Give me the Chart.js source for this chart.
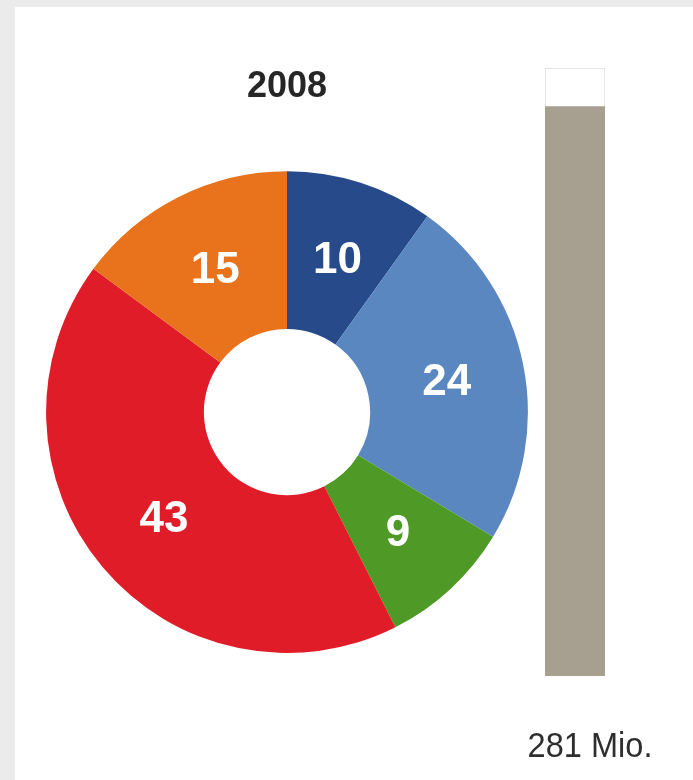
<!DOCTYPE html>
<html>
<head>
<meta charset="utf-8">
<script src="https://cdn.jsdelivr.net/npm/chart.js@4/dist/chart.umd.min.js"></script>
<style>
    body { margin: 0; background: #ebebeb; width: 693px; height: 780px; overflow: hidden; position: relative; }
    .panel { position: absolute; left: 15px; top: 7px; width: 700px; height: 800px; background: #fff; }
    #shareChart { position: absolute; left: 0; top: 0; }
    #totalChart { position: absolute; left: 520px; top: 40px; }
</style>
</head>
<body>
<div class="panel"></div>
<canvas id="shareChart" width="540" height="700"></canvas>
<canvas id="totalChart" width="173" height="740"></canvas>
<script>
// Anteile 2008 (im Uhrzeigersinn ab 12 Uhr)
const year = '2008';
const segments = ['A', 'B', 'C', 'D', 'E'];
const shares = [10, 24, 9, 43, 15];
const segmentColors = ['#274a8b', '#5b87c0', '#4f9a26', '#df1c28', '#e9721d'];

// Gesamtsumme
const totalLabels = ['2008'];
const totalValues = [281];
const totalMax = [300];
const totalUnit = 'Mio.';

const fontFamily = '"Liberation Sans", Arial, Helvetica, sans-serif';

document.addEventListener('DOMContentLoaded', function() {
    drawShareChart();
    drawTotalChart();
});

// Zahlen in die Segmente schreiben
const segmentLabels = {
    id: 'segmentLabels',
    afterDatasetsDraw(chart) {
        const ctx = chart.ctx;
        const meta = chart.getDatasetMeta(0);
        ctx.save();
        ctx.fillStyle = '#ffffff';
        ctx.font = 'bold 44px ' + fontFamily;
        ctx.textAlign = 'center';
        ctx.textBaseline = 'middle';
        meta.data.forEach((arc, i) => {
            const pos = arc.tooltipPosition();
            ctx.fillText(String(shares[i]), pos.x + 1, pos.y + 3);
        });
        ctx.restore();
    }
};

function drawShareChart() {
    const ctx = document.getElementById('shareChart').getContext('2d');
    new Chart(ctx, {
        type: 'doughnut',
        data: {
            labels: segments,
            datasets: [{
                data: shares,
                backgroundColor: segmentColors,
                borderWidth: 0,
                hoverOffset: 0,
                offset: 0
            }]
        },
        options: {
            responsive: false,
            animation: false,
            devicePixelRatio: 1,
            cutout: '34.5%',
            layout: { padding: { left: 46, right: 12, top: 0, bottom: 47 } },
            plugins: {
                legend: { display: false },
                tooltip: { enabled: false },
                title: {
                    display: true,
                    text: year,
                    color: '#262626',
                    font: { family: fontFamily, size: 36, weight: 'bold' },
                    padding: { top: 65, bottom: 63 }
                }
            }
        },
        plugins: [segmentLabels]
    });
}

// Beschriftung unter dem Balken
const totalCaption = {
    id: 'totalCaption',
    afterDraw(chart) {
        const ctx = chart.ctx;
        ctx.save();
        ctx.fillStyle = '#2e2e2e';
        ctx.font = '35px ' + fontFamily;
        ctx.textAlign = 'center';
        ctx.textBaseline = 'alphabetic';
        ctx.translate(70, 717);
        ctx.scale(0.93, 1);
        ctx.fillText(totalValues[0] + ' ' + totalUnit, 0, 0);
        ctx.restore();
    }
};

function drawTotalChart() {
    const ctx = document.getElementById('totalChart').getContext('2d');
    new Chart(ctx, {
        type: 'bar',
        data: {
            labels: totalLabels,
            datasets: [
                {
                    data: totalValues,
                    backgroundColor: '#a79f90',
                    borderWidth: 0
                },
                {
                    data: totalMax,
                    backgroundColor: '#ffffff',
                    borderColor: '#dcdcdc',
                    borderWidth: 1,
                    borderSkipped: false
                }
            ]
        },
        options: {
            responsive: false,
            animation: false,
            devicePixelRatio: 1,
            layout: { padding: { left: 25, right: 88, top: 28, bottom: 104 } },
            datasets: { bar: { grouped: false, barPercentage: 1, categoryPercentage: 1 } },
            scales: {
                x: { display: false },
                y: { display: false, min: 0, max: totalMax[0] }
            },
            plugins: {
                legend: { display: false },
                tooltip: { enabled: false }
            }
        },
        plugins: [totalCaption]
    });
}
</script>
</body>
</html>
